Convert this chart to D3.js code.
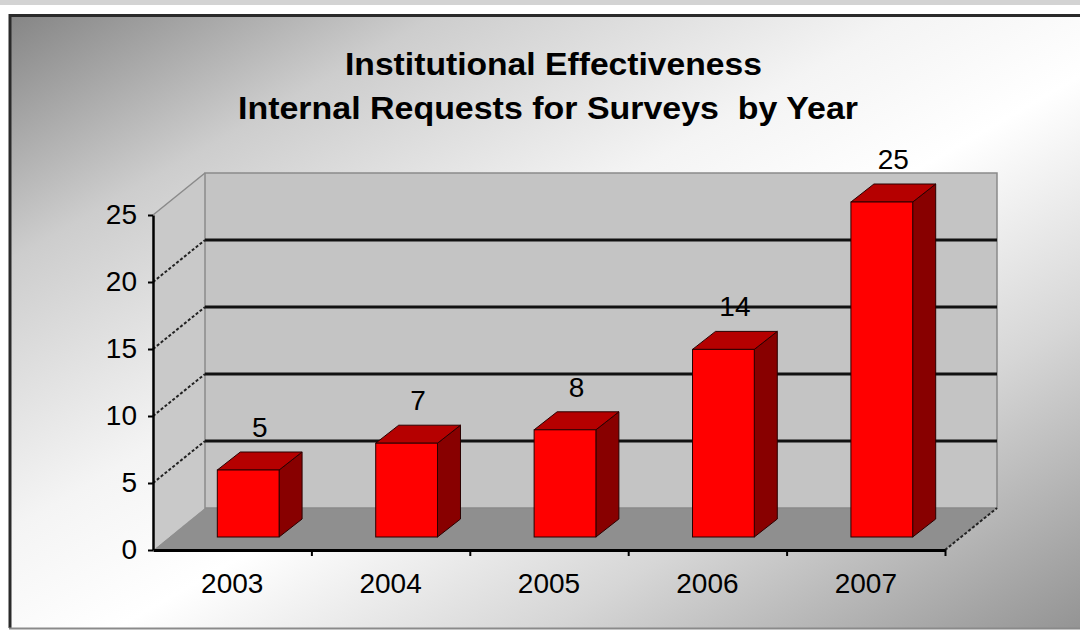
<!DOCTYPE html>
<html>
<head>
<meta charset="utf-8">
<script src="https://cdn.jsdelivr.net/npm/d3@7"></script>
<style>
  body { margin: 0; background: #fff; }
  svg text { font-family: "Liberation Sans", Arial, sans-serif; }
  .title { white-space: pre; }
</style>
</head>
<body>
<div id="chart"></div>
<script>
// data
const years = ["2003", "2004", "2005", "2006", "2007"];
const requests = [5, 7, 8, 14, 25];
const yTicks = [0, 5, 10, 15, 20, 25];
const titleLines = ["Institutional Effectiveness", "Internal Requests for Surveys  by Year"];

const width = 1080;
const height = 631;

// 3d depth of the plot box and of the bars
const depth = {dx: 52, dy: -42};
const barFront = {dx: 16, dy: -13};
const barDepth = {dx: 23, dy: -18};

const svg = d3.select("#chart")
  .append("svg")
  .attr("width", width)
  .attr("height", height);

const defs = svg.append("defs");
const bg = defs.append("linearGradient")
  .attr("id", "bg")
  .attr("x1", 0).attr("y1", 0).attr("x2", 1).attr("y2", 1);
[[0, "#858585"], [0.2, "#cdcdcd"], [0.42, "#f4f4f4"], [0.55, "#ffffff"], [0.75, "#d6d6d6"], [1, "#949494"]]
  .forEach(s => bg.append("stop").attr("offset", s[0]).attr("stop-color", s[1]));

// frame
svg.append("rect").attr("x", 0).attr("y", 0).attr("width", width).attr("height", 5).attr("fill", "#d3d3d3");
svg.append("rect")
  .attr("x", 10).attr("y", 15)
  .attr("width", width - 10).attr("height", 613)
  .attr("fill", "url(#bg)");
svg.append("line").attr("x1", 9).attr("x2", width).attr("y1", 15.5).attr("y2", 15.5)
  .attr("stroke", "#2a2a2a").attr("stroke-width", 3);
svg.append("line").attr("x1", 10).attr("x2", 10).attr("y1", 14).attr("y2", 628)
  .attr("stroke", "#2a2a2a").attr("stroke-width", 3);
svg.append("line").attr("x1", 9).attr("x2", width).attr("y1", 628.5).attr("y2", 628.5)
  .attr("stroke", "#8a8a8a").attr("stroke-width", 2);

// scales
const x = d3.scaleBand()
  .domain(years)
  .range([153, 945])
  .padding(0);

const xBar = d3.scaleBand()
  .domain(years)
  .range([153, 945])
  .paddingInner(0.61)
  .paddingOuter(0.305);

const y = d3.scaleLinear()
  .domain([0, 25])
  .range([550, 215]);

const x0 = x.range()[0], x1 = x.range()[1];
const pts = p => p.map(d => d.join(",")).join(" ");

// floor
svg.append("polygon")
  .attr("points", pts([[x0, y(0)], [x1, y(0)], [x1 + depth.dx, y(0) + depth.dy], [x0 + depth.dx, y(0) + depth.dy]]))
  .attr("fill", "#8f8f8f");

// side wall
svg.append("polygon")
  .attr("points", pts([[x0, y(0)], [x0, y(25)], [x0 + depth.dx, y(25) + depth.dy], [x0 + depth.dx, y(0) + depth.dy]]))
  .attr("fill", "#c9c9c9");
// redraw floor wedge over the side wall
svg.append("polygon")
  .attr("points", pts([[x0, y(0)], [x0 + depth.dx, y(0) + depth.dy], [x0 + depth.dx + 1, y(0) + depth.dy]]))
  .attr("fill", "#8f8f8f");

// back wall
svg.append("rect")
  .attr("x", x0 + depth.dx)
  .attr("y", y(25) + depth.dy)
  .attr("width", x1 - x0)
  .attr("height", y(0) - y(25))
  .attr("fill", "#c4c4c4")
  .attr("stroke", "#8a8a8a")
  .attr("stroke-width", 1.5);

// gridlines on back wall
svg.selectAll(".grid")
  .data(yTicks.filter(t => t > 0 && t < 25))
  .enter()
  .append("line")
  .attr("class", "grid")
  .attr("x1", x0 + depth.dx).attr("x2", x1 + depth.dx)
  .attr("y1", d => y(d) + depth.dy).attr("y2", d => y(d) + depth.dy)
  .attr("stroke", "#111").attr("stroke-width", 3);

// gridlines on side wall (dotted)
svg.selectAll(".sgrid")
  .data(yTicks.filter(t => t > 0 && t < 25))
  .enter()
  .append("line")
  .attr("class", "sgrid")
  .attr("x1", x0).attr("x2", x0 + depth.dx)
  .attr("y1", d => y(d)).attr("y2", d => y(d) + depth.dy)
  .attr("stroke", "#222").attr("stroke-width", 2)
  .attr("stroke-dasharray", "3,2");
svg.append("line")
  .attr("x1", x0).attr("x2", x0 + depth.dx)
  .attr("y1", y(25)).attr("y2", y(25) + depth.dy)
  .attr("stroke", "#8a8a8a").attr("stroke-width", 1.5);
svg.append("line")
  .attr("x1", x1).attr("x2", x1 + depth.dx)
  .attr("y1", y(0)).attr("y2", y(0) + depth.dy)
  .attr("stroke", "#222").attr("stroke-width", 2)
  .attr("stroke-dasharray", "3,2");

// bars
const bars = svg.selectAll(".bar")
  .data(years.map((d, i) => ({year: d, value: requests[i]})))
  .enter()
  .append("g")
  .attr("class", "bar");

const bx = d => xBar(d.year) + barFront.dx;
const bw = xBar.bandwidth();
const bTop = d => y(d.value) + barFront.dy;
const bBot = y(0) + barFront.dy;

bars.append("polygon")
  .attr("points", d => pts([[bx(d) + bw, bTop(d)], [bx(d) + bw + barDepth.dx, bTop(d) + barDepth.dy],
    [bx(d) + bw + barDepth.dx, bBot + barDepth.dy], [bx(d) + bw, bBot]]))
  .attr("fill", "#880000")
  .attr("stroke", "#2a0000").attr("stroke-width", 1);

bars.append("polygon")
  .attr("points", d => pts([[bx(d), bTop(d)], [bx(d) + barDepth.dx, bTop(d) + barDepth.dy],
    [bx(d) + bw + barDepth.dx, bTop(d) + barDepth.dy], [bx(d) + bw, bTop(d)]]))
  .attr("fill", "#b50000")
  .attr("stroke", "#2a0000").attr("stroke-width", 1);

bars.append("rect")
  .attr("x", bx)
  .attr("y", bTop)
  .attr("width", bw)
  .attr("height", d => bBot - bTop(d))
  .attr("fill", "#ff0000")
  .attr("stroke", "#2a0000").attr("stroke-width", 1);

// value labels
bars.append("text")
  .attr("x", d => bx(d) + bw / 2 + barDepth.dx / 2)
  .attr("y", d => bTop(d) + barDepth.dy - 15)
  .attr("text-anchor", "middle")
  .attr("font-size", "28px")
  .attr("fill", "#000")
  .text(d => d.value);

// y axis
const yAxis = svg.append("g")
  .attr("transform", `translate(${x0},0)`)
  .call(d3.axisLeft(y).tickValues(yTicks).tickSize(5).tickSizeOuter(0).tickPadding(11));
yAxis.selectAll("text").attr("font-size", "28px").attr("fill", "#000").style("font-family", "Liberation Sans");
yAxis.select(".domain").attr("stroke", "#000").attr("stroke-width", 2.5);
yAxis.selectAll(".tick line").attr("stroke", "#000").attr("stroke-width", 2);

// x axis: boundary ticks + centred labels
const xb = d3.scaleLinear().domain([0, years.length]).range([x0, x1]);
const xTicks = svg.append("g")
  .attr("transform", `translate(0,${y(0)})`)
  .call(d3.axisBottom(xb).tickValues(d3.range(1, years.length + 1)).tickFormat("").tickSize(6).tickSizeOuter(0));
xTicks.select(".domain").attr("stroke", "#000").attr("stroke-width", 3);
xTicks.selectAll(".tick line").attr("stroke", "#000").attr("stroke-width", 2);

const xAxis = svg.append("g")
  .attr("transform", `translate(0,${y(0)})`)
  .call(d3.axisBottom(x).tickSize(0).tickPadding(23));
xAxis.select(".domain").remove();
xAxis.selectAll("text").attr("font-size", "28px").attr("fill", "#000").style("font-family", "Liberation Sans");

// title
svg.selectAll(".title")
  .data(titleLines)
  .enter()
  .append("text")
  .attr("class", "title")
  .attr("x", (d, i) => [345, 238][i])
  .attr("y", (d, i) => [75, 119][i])
  .attr("textLength", (d, i) => [417, 620][i])
  .attr("lengthAdjust", "spacingAndGlyphs")
  .attr("font-size", "32px")
  .attr("font-weight", "bold")
  .attr("fill", "#000")
  .text(d => d);
</script>
</body>
</html>
